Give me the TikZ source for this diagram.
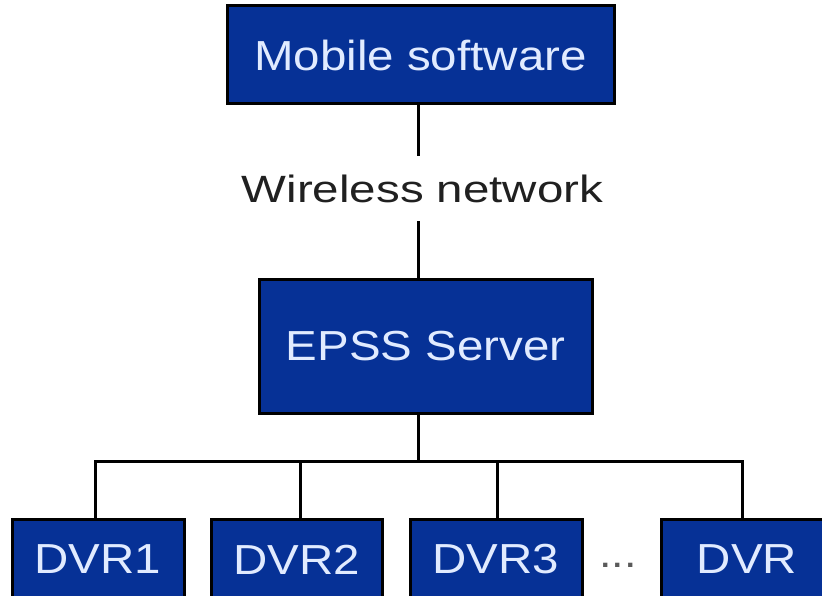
\documentclass[tikz,border=0pt]{standalone}
\usepackage{fontspec}
\setmainfont{Liberation Sans}
\definecolor{boxblue}{RGB}{6,49,150}
\definecolor{boxtext}{RGB}{225,235,255}
\definecolor{labeltext}{RGB}{32,32,32}
\definecolor{dotgray}{RGB}{90,90,90}
\newcommand{\hstretch}[2]{\scalebox{#1}[1]{#2}}
\tikzset{
  bluebox/.style={draw=black, line width=3pt, fill=boxblue, text=boxtext,
    inner sep=0pt, font=\fontsize{42}{48}\selectfont},
  link/.style={draw=black, line width=3pt, line join=miter},
  netlabel/.style={inner sep=0pt, text=labeltext, font=\fontsize{38}{44}\selectfont}
}
\begin{document}
\begin{tikzpicture}[x=1pt,y=-1pt]
\useasboundingbox (0,0) rectangle (822,596);
\fill[white] (0,0) rectangle (822,596);

\node[bluebox, minimum width=387, minimum height=98] (mob) at (420.5,55) {\hstretch{1.13}{Mobile software}};
\node[netlabel, minimum height=65] (wl) at (422.5,188.5) {\hstretch{1.25}{Wireless network}};
\node[bluebox, minimum width=333, minimum height=134] (epss) at (425.5,346) {\hstretch{1.13}{EPSS Server}};

\node[bluebox, minimum width=172, minimum height=81] (d1) at (98,559.5) {\hstretch{1.13}{DVR1}};
\node[bluebox, minimum width=171, minimum height=81] (d2) at (296.5,559.5) {\hstretch{1.13}{DVR2}};
\node[bluebox, minimum width=172, minimum height=81] (d3) at (496,559.5) {\hstretch{1.13}{DVR3}};
\node[bluebox, minimum width=172, minimum height=81] (d4) at (747,559.5) {\hstretch{1.13}{DVR}};
\node[inner sep=0pt, anchor=base, text=dotgray, font=\fontsize{40}{40}\selectfont] (dots) at (618,567.5) {\hstretch{1.12}{...}};

\coordinate (axis) at (418,0);
\coordinate (busL) at (95,461);
\coordinate (busR) at (742,461);
\coordinate (t2) at (300,461);
\coordinate (t3) at (497,461);

\draw[link] (mob.south -| axis) -- (wl.north -| axis);
\draw[link] (wl.south -| axis) -- (epss.north -| axis);
\draw[link] (epss.south -| axis) -- (busL -| axis);
\draw[link] (d1.north -| busL) -- (busL) -- (busR) -- (d4.north -| busR);
\draw[link] (t2) -- (d2.north -| t2);
\draw[link] (t3) -- (d3.north -| t3);
\end{tikzpicture}
\end{document}
